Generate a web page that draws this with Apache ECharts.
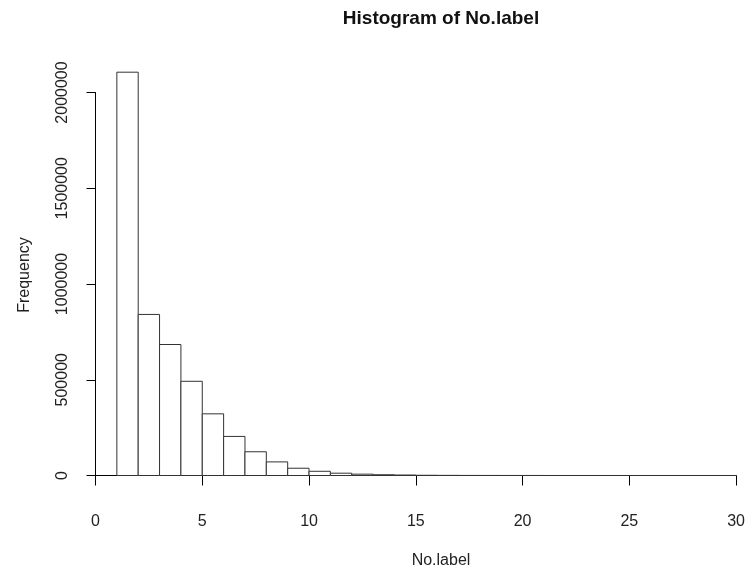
<!DOCTYPE html>
<html>
<head>
<meta charset="utf-8">
<script src="https://cdn.jsdelivr.net/npm/echarts@6/dist/echarts.min.js"></script>
<style>
  html, body { margin: 0; padding: 0; background: #fff; }
  #chart { width: 748px; height: 573px; }
</style>
</head>
<body>
<div id="chart"></div>
<script>
// histogram bins: [binStart, binEnd) with counts
const binStarts = [1, 2, 3, 4, 5, 6, 7, 8, 9, 10, 11, 12, 13, 14, 15, 16, 17, 18, 19, 20, 21, 22, 23, 24, 25, 26, 27, 28, 29];
const binEnds = [2, 3, 4, 5, 6, 7, 8, 9, 10, 11, 12, 13, 14, 15, 16, 17, 18, 19, 20, 21, 22, 23, 24, 25, 26, 27, 28, 29, 30];
const counts = [2106000, 841000, 684000, 492000, 322000, 204000, 124000, 71000, 38000, 22000, 12000, 7000, 4000, 2500,
  1200, 700, 400, 250, 150, 90, 60, 40, 25, 15, 10, 6, 4, 2, 1];
const xTicks = [0, 5, 10, 15, 20, 25, 30];
const yTicks = [0, 500000, 1000000, 1500000, 2000000];

const FONT = '"Liberation Sans", Arial, sans-serif';
const chart = echarts.init(document.getElementById('chart'), null, { renderer: 'canvas' });

const data = binStarts.map((s, i) => [s, binEnds[i], counts[i]]);

chart.setOption({
  backgroundColor: '#fff',
  animation: false,
  grid: { left: 95.5, right: 6.5, top: 92.5, bottom: 97.5 },
  xAxis: {
    type: 'value',
    min: xTicks[0],
    max: xTicks[xTicks.length - 1],
    interval: 5,
    offset: 16.5,
    splitLine: { show: false },
    axisLine: { lineStyle: { color: '#000', width: 1 } },
    axisTick: { length: 10, lineStyle: { color: '#000' } },
    axisLabel: { color: '#222', fontSize: 16, fontFamily: FONT, margin: 22 }
  },
  yAxis: {
    type: 'value',
    min: yTicks[0],
    max: yTicks[yTicks.length - 1],
    interval: 500000,
    offset: 4.5,
    splitLine: { show: false },
    axisLine: { show: true, lineStyle: { color: '#000', width: 1 } },
    axisTick: { show: true, length: 9, lineStyle: { color: '#000' } },
    axisLabel: { color: '#222', fontSize: 16, fontFamily: FONT, rotate: 90, margin: 20, formatter: v => String(v) }
  },
  graphic: [
    { type: 'text', x: 441, y: 19, style: { text: 'Histogram of No.label', font: 'bold 19px ' + FONT, fill: '#111', align: 'center', verticalAlign: 'middle', textAlign: 'center', textVerticalAlign: 'middle' } },
    { type: 'text', x: 441, y: 561, style: { text: 'No.label', font: '16px ' + FONT, fill: '#222', align: 'center', verticalAlign: 'middle', textAlign: 'center', textVerticalAlign: 'middle' } },
    { type: 'text', x: 25, y: 275, rotation: Math.PI / 2, style: { text: 'Frequency', font: '16px ' + FONT, fill: '#222', align: 'center', verticalAlign: 'middle', textAlign: 'center', textVerticalAlign: 'middle' } }
  ],
  series: [{
    type: 'custom',
    clip: false,
    data: data,
    encode: { x: [0, 1], y: 2 },
    renderItem: function (params, api) {
      const p0 = api.coord([api.value(0), api.value(2)]);
      const p1 = api.coord([api.value(1), 0]);
      return {
        type: 'rect',
        shape: { x: p0[0], y: p0[1], width: p1[0] - p0[0], height: p1[1] - p0[1] },
        style: { fill: '#fff', stroke: '#333', lineWidth: 1 }
      };
    }
  }]
});
</script>
</body>
</html>
